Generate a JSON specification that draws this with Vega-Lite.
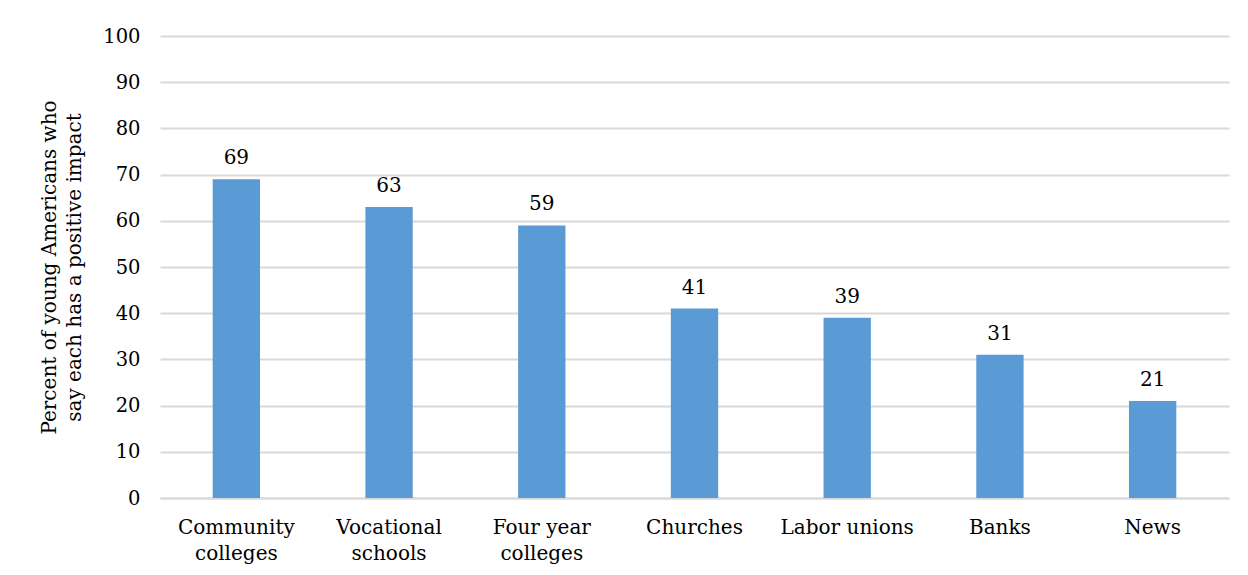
{
  "$schema": "https://vega.github.io/schema/vega-lite/v6.json",
  "width": 1069,
  "height": 462,
  "autosize": {"type": "none"},
  "padding": {"left": 160, "top": 36, "right": 19, "bottom": 77},
  "background": "white",
  "config": {
    "view": {"stroke": null},
    "font": "DejaVu Serif"
  },
  "data": {
    "values": [
      {"category": "Community colleges", "value": 69},
      {"category": "Vocational schools", "value": 63},
      {"category": "Four year colleges", "value": 59},
      {"category": "Churches", "value": 41},
      {"category": "Labor unions", "value": 39},
      {"category": "Banks", "value": 31},
      {"category": "News", "value": 21}
    ]
  },
  "encoding": {
    "x": {
      "field": "category",
      "type": "nominal",
      "sort": null,
      "scale": {"paddingInner": 0.69, "paddingOuter": 0.345},
      "axis": {
        "title": null,
        "labelAngle": 0,
        "labelFont": "DejaVu Serif",
        "labelFontSize": 20,
        "labelColor": "#000000",
        "labelPadding": 19,
        "labelLineHeight": 26,
        "ticks": false,
        "domainColor": "#d9d9d9",
        "domainWidth": 2,
        "labelExpr": "datum.label == 'Community colleges' ? ['Community', 'colleges'] : datum.label == 'Vocational schools' ? ['Vocational', 'schools'] : datum.label == 'Four year colleges' ? ['Four year', 'colleges'] : datum.label"
      }
    },
    "y": {
      "field": "value",
      "type": "quantitative",
      "scale": {"domain": [0, 100], "nice": false},
      "axis": {
        "title": ["Percent of young Americans who", "say each has a positive impact"],
        "titleFont": "DejaVu Serif",
        "titleFontSize": 20,
        "titleFontWeight": "normal",
        "titleColor": "#000000",
        "titlePadding": 18,
        "titleLineHeight": 25,
        "values": [0, 10, 20, 30, 40, 50, 60, 70, 80, 90, 100],
        "labelFont": "DejaVu Serif",
        "labelFontSize": 19.5,
        "labelColor": "#000000",
        "labelPadding": 20,
        "ticks": false,
        "domain": false,
        "grid": true,
        "gridColor": "#d9d9d9",
        "gridWidth": 2
      }
    }
  },
  "layer": [
    {"mark": {"type": "bar", "color": "#5B9BD5"}},
    {
      "mark": {"type": "text", "baseline": "bottom", "dy": -11, "fontSize": 20, "font": "DejaVu Serif", "color": "#000000"},
      "encoding": {"text": {"field": "value", "type": "quantitative"}}
    }
  ]
}
